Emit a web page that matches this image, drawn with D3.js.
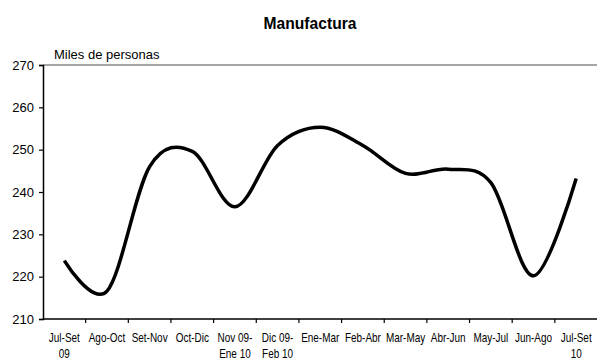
<!DOCTYPE html>
<html>
<head>
<meta charset="utf-8">
<script src="https://cdn.jsdelivr.net/npm/d3@7"></script>
<style>
  body { margin: 0; background: #fff; }
  text { font-family: "Liberation Sans", Arial, sans-serif; fill: #000; }
</style>
</head>
<body>
<div id="chart"></div>
<script>
// periods (two-line labels)
const periods = [
  ["Jul-Set", "09"], ["Ago-Oct"], ["Set-Nov"], ["Oct-Dic"],
  ["Nov 09-", "Ene 10"], ["Dic 09-", "Feb 10"], ["Ene-Mar"], ["Feb-Abr"],
  ["Mar-May"], ["Abr-Jun"], ["May-Jul"], ["Jun-Ago"], ["Jul-Set", "10"]
];
// miles de personas
const employed = [223.8, 216.6, 246, 249.6, 236.5, 251, 255.3, 251, 244.4, 245.4, 242.2, 220.2, 243.2];
const yTicks = [210, 220, 230, 240, 250, 260, 270];

const width = 597, height = 360;
const margin = { top: 65, right: 0, bottom: 41, left: 43 };

const svg = d3.select("#chart").append("svg")
  .attr("width", width)
  .attr("height", height);

const keys = periods.map((d, i) => i);

const x = d3.scaleBand()
  .domain(keys)
  .range([margin.left, 597.5]);

const y = d3.scaleLinear()
  .domain([210, 270])
  .range([height - margin.bottom, margin.top]);

// narrow look: squeeze text horizontally
const squeeze = 0.83;

// title
svg.append("g")
  .attr("transform", `translate(310,29) scale(0.92,1)`)
  .append("text")
  .attr("text-anchor", "middle")
  .style("font-size", "17px")
  .style("font-weight", "bold")
  .text("Manufactura");

svg.append("text")
  .attr("x", 54)
  .attr("y", 59)
  .style("font-size", "13px")
  .text("Miles de personas");

// top gridline
svg.append("line")
  .attr("x1", margin.left).attr("x2", width)
  .attr("y1", y(270)).attr("y2", y(270))
  .attr("stroke", "#888")
  .attr("stroke-width", 1.5);

// y axis
const yAxis = svg.append("g")
  .attr("transform", `translate(${margin.left},0)`)
  .call(d3.axisLeft(y).tickValues(yTicks).tickSize(4).tickPadding(5));
yAxis.select(".domain").attr("stroke", "#000").attr("stroke-width", 1.5);
yAxis.selectAll(".tick line").attr("stroke", "#000").attr("stroke-width", 1.2);
yAxis.selectAll("text").style("font-size", "13px").attr("font-family", null);

// x axis: ticks between categories
const xAxis = svg.append("g")
  .attr("transform", `translate(0,${y(210)})`);
xAxis.append("line")
  .attr("x1", margin.left).attr("x2", width)
  .attr("stroke", "#000").attr("stroke-width", 1.5);
xAxis.selectAll(".xt")
  .data(keys.slice(1))
  .enter().append("line")
  .attr("class", "xt")
  .attr("x1", d => x(d)).attr("x2", d => x(d))
  .attr("y1", 0).attr("y2", 4)
  .attr("stroke", "#000").attr("stroke-width", 1.2);

const labels = svg.append("g");
periods.forEach((p, i) => {
  const t = labels.append("g")
    .attr("transform", `translate(${x(i) + x.bandwidth() / 2},342) scale(${squeeze},1)`)
    .append("text")
    .attr("text-anchor", "middle")
    .style("font-size", "12px");
  p.forEach((s, j) => {
    t.append("tspan")
      .attr("x", 0)
      .attr("dy", j === 0 ? 0 : 16)
      .text(s);
  });
});

// smoothed line
const line = d3.line()
  .x((d, i) => x(i) + x.bandwidth() / 2)
  .y(d => y(d))
  .curve(d3.curveCatmullRom.alpha(0));

svg.append("path")
  .datum(employed)
  .attr("fill", "none")
  .attr("stroke", "#000")
  .attr("stroke-width", 3.5)
  .attr("stroke-linejoin", "round")
  .attr("d", line);
</script>
</body>
</html>
